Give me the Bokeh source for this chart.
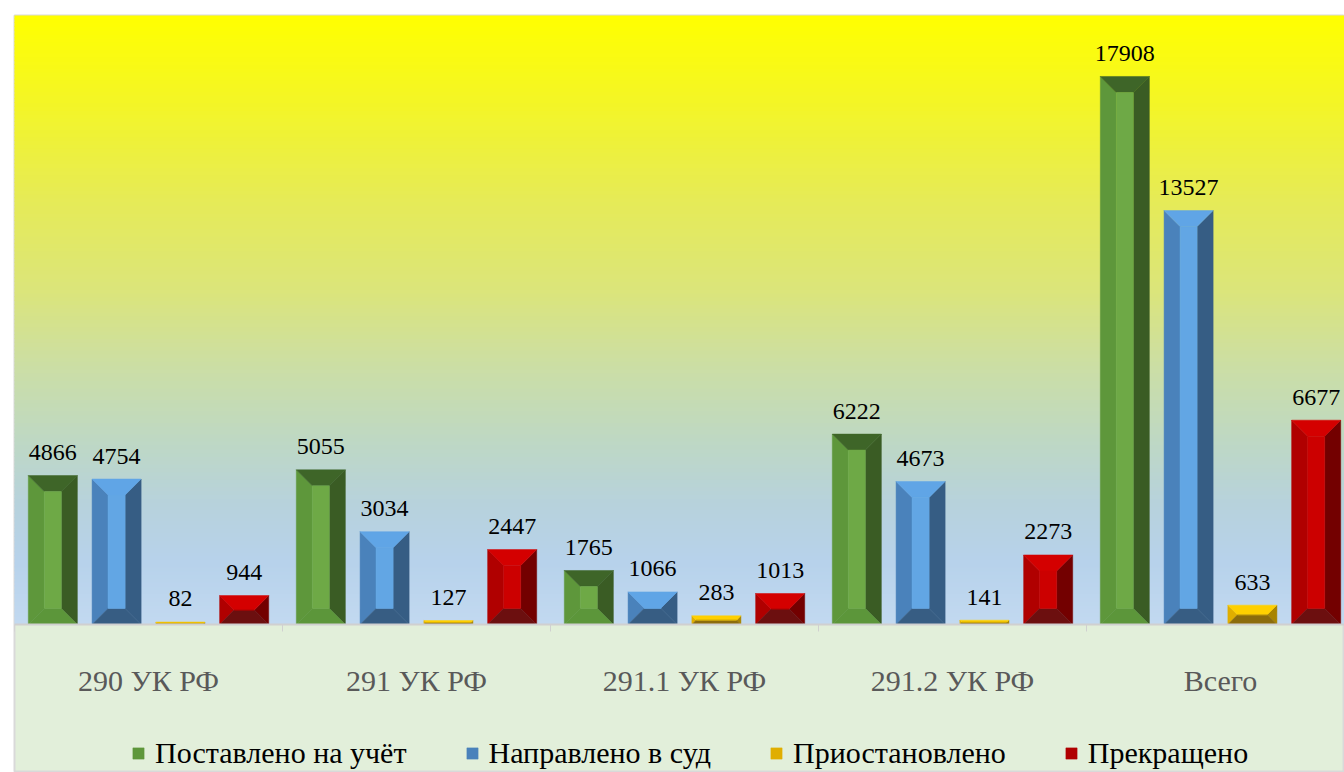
from bokeh.plotting import figure
from bokeh.models import Range1d, FixedTicker, Legend, LegendItem
from bokeh.core.properties import value
from bokeh.embed import file_html
from bokeh.resources import INLINE

# ---------------- data ----------------
categories = ["290 УК РФ", "291 УК РФ", "291.1 УК РФ", "291.2 УК РФ", "Всего"]
series_names = ["Поставлено на учёт", "Направлено в суд", "Приостановлено", "Прекращено"]
postavleno = [4866, 5055, 1765, 6222, 17908]
napravleno = [4754, 3034, 1066, 4673, 13527]
priostanovleno = [82, 127, 283, 141, 633]
prekrascheno = [944, 2447, 1013, 2273, 6677]
series_values = [postavleno, napravleno, priostanovleno, prekrascheno]

# ---------------- styles ----------------
face_colors = [
    dict(left="#5e973b", top="#3e6528", right="#3a5c24", bottom="#5c963a", center="#6ea946"),
    dict(left="#4a82bb", top="#60a5e6", right="#365d84", bottom="#375d83", center="#62a6e4"),
    dict(left="#e0ae00", top="#ffd000", right="#a88400", bottom="#8c6c0c", center="#e8bc00"),
    dict(left="#b00000", top="#d40000", right="#730000", bottom="#6c0f0f", center="#cc0000"),
]
offsets = [-0.357, -0.119, 0.119, 0.357]
bar_w = 0.183
bevel_px = 16

W, H = 1344, 772
TOP, LEFT = 15, 14
AXIS_Y = 624            # screen y of the category axis
Y_MAX = 19900
GROUP_PX = 268
X_END = (W - LEFT) / GROUP_PX
px_x = GROUP_PX
px_y = (AXIS_Y - TOP) / Y_MAX
Y_MIN = -(H - AXIS_Y) / px_y

FONT = "Times New Roman, Liberation Serif, DejaVu Serif, serif"

p = figure(width=W, height=H, output_backend="svg", toolbar_location=None,
           x_range=Range1d(0, X_END), y_range=Range1d(Y_MIN, Y_MAX),
           y_axis_location=None, min_border_top=TOP, min_border_left=LEFT,
           min_border_right=0, min_border_bottom=0,
           border_fill_color="#ffffff", background_fill_color="#e2efda",
           outline_line_color="#d9d9d9", outline_line_width=2)
p.xgrid.grid_line_color = None
p.ygrid.grid_line_color = None

# ---------------- gradient background ----------------
stops = [(0.0, "#c2d9f0"), (0.10, "#b7d2eb"), (0.20, "#b7d2dc"), (0.30, "#bed8c4"),
         (0.42, "#cbdea6"), (0.55, "#dbe57a"), (0.70, "#e6eb56"), (0.85, "#f3f528"),
         (1.0, "#ffff00")]


def hex2rgb(h):
    return tuple(int(h[i:i + 2], 16) for i in (1, 3, 5))


def grad(t):
    for (t0, c0), (t1, c1) in zip(stops[:-1], stops[1:]):
        if t0 <= t <= t1:
            f = (t - t0) / (t1 - t0)
            a, b = hex2rgb(c0), hex2rgb(c1)
            return "#%02x%02x%02x" % tuple(round(a[k] + (b[k] - a[k]) * f) for k in range(3))
    return stops[-1][1]


NB = 160
band_b = [Y_MAX * i / NB for i in range(NB)]
band_t = [min(Y_MAX * 1.01, Y_MAX * (i + 1.3) / NB) for i in range(NB)]
band_c = [grad((i + 0.5) / NB) for i in range(NB)]
p.quad(left=-1, right=X_END + 1, bottom=band_b, top=band_t, fill_color=band_c, line_color=None)

# ---------------- bevelled bars ----------------
legend_renderers = []
for s, vals in enumerate(series_values):
    faces = {k: ([], []) for k in ("left", "top", "right", "bottom", "center")}
    lx, ly, lt = [], [], []
    for i, v in enumerate(vals):
        xc = i + 0.5 + offsets[s]
        x0, x1 = xc - bar_w / 2, xc + bar_w / 2
        y0, y1 = 0, v
        bpx = min(bevel_px, v * px_y / 2)
        bx, by = bpx / px_x, bpx / px_y
        polys = {
            "left": ([x0, x0, x0 + bx, x0 + bx], [y0, y1, y1 - by, y0 + by]),
            "top": ([x0, x1, x1 - bx, x0 + bx], [y1, y1, y1 - by, y1 - by]),
            "right": ([x1, x1, x1 - bx, x1 - bx], [y1, y0, y0 + by, y1 - by]),
            "bottom": ([x0, x1, x1 - bx, x0 + bx], [y0, y0, y0 + by, y0 + by]),
            "center": ([x0 + bx, x1 - bx, x1 - bx, x0 + bx], [y0 + by, y0 + by, y1 - by, y1 - by]),
        }
        for k, (xs, ys) in polys.items():
            faces[k][0].append(xs)
            faces[k][1].append(ys)
        lx.append(xc)
        ly.append(v)
        lt.append(str(v))
    rs = {}
    for k in ("left", "right", "top", "bottom", "center"):
        rs[k] = p.patches(xs=faces[k][0], ys=faces[k][1], fill_color=face_colors[s][k],
                          line_color=face_colors[s][k], line_width=0.5)
    legend_renderers.append(rs["left"])
    p.text(x=lx, y=ly, text=lt, text_align="center", text_baseline="alphabetic",
           y_offset=-23, text_font=value(FONT), text_font_size="24px", text_color="#000000")

# ---------------- axis ----------------
ax = p.xaxis[0]
ax.fixed_location = 0
ax.ticker = FixedTicker(ticks=[i + 0.5 for i in range(len(categories))],
                        minor_ticks=list(range(len(categories) + 1)))
ax.major_label_overrides = {i + 0.5: c for i, c in enumerate(categories)}
ax.major_tick_line_color = None
ax.major_tick_out = 0
ax.major_tick_in = 0
ax.minor_tick_out = 7
ax.minor_tick_in = 0
ax.minor_tick_line_color = "#d0d0d0"
ax.axis_line_color = "#d0d0d0"
ax.axis_line_width = 2
ax.major_label_text_font = FONT
ax.major_label_text_font_size = "30px"
ax.major_label_text_color = "#595959"
ax.major_label_standoff = 32

# ---------------- legend ----------------
legend = Legend(items=[LegendItem(label=n, renderers=[r]) for n, r in zip(series_names, legend_renderers)],
                orientation="horizontal", location=(117, 2),
                label_text_font=FONT, label_text_font_size="30px", label_text_color="#000000",
                glyph_width=14, glyph_height=14, label_standoff=10, spacing=58,
                padding=0, margin=0, background_fill_alpha=0, border_line_color=None)
p.add_layout(legend, "center")

open("out.html", "w").write(file_html(p, INLINE))
